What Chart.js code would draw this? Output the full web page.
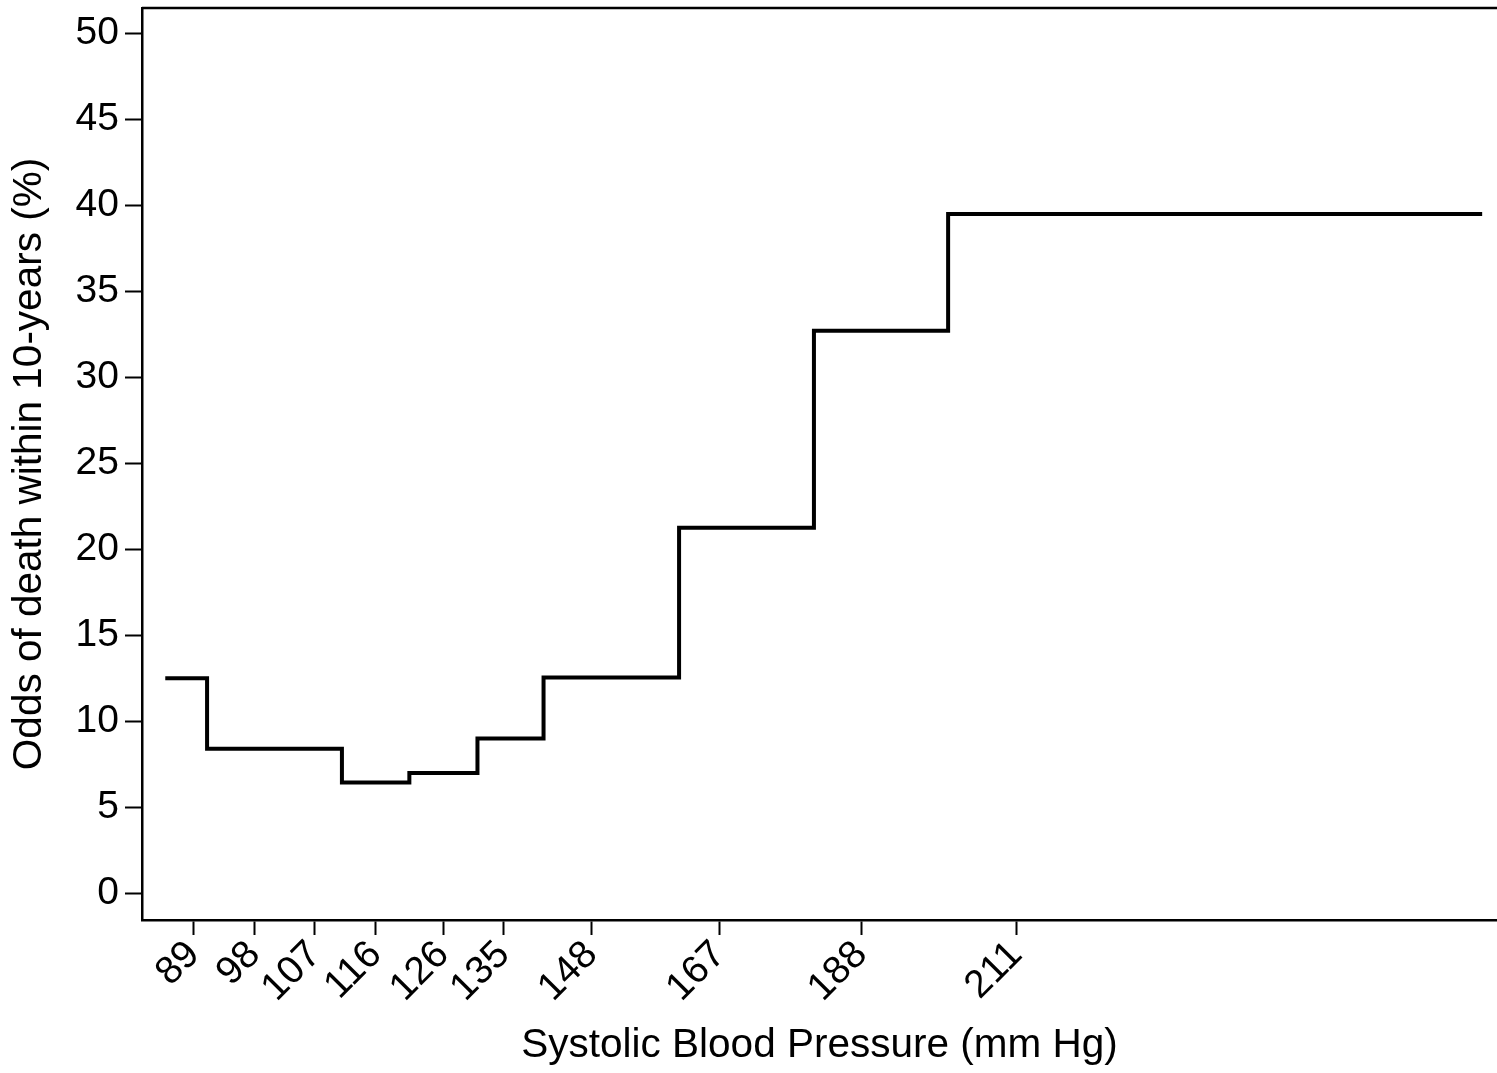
<!DOCTYPE html>
<html>
<head>
<meta charset="utf-8">
<script src="https://cdn.jsdelivr.net/npm/chart.js@4.4.0/dist/chart.umd.min.js"></script>
<style>
  html, body { margin: 0; padding: 0; background: #fff; }
  #wrap { width: 1497px; height: 1073px; }
</style>
</head>
<body>
<div id="wrap"><canvas id="sbpChart"></canvas></div>
<script>
// SBP value where each band starts, and the odds of death (%) for that band
const sbpPoints = [84.8, 91.0, 111.0, 121.0, 131.1, 140.9, 161.0, 181.0, 200.9, 280.1];
const oddsPct = [12.5, 8.4, 6.45, 7.0, 9.0, 12.55, 21.25, 32.7, 39.5, 39.5];
const xTickValues = [89, 98, 107, 116, 126, 135, 148, 167, 188, 211];
const yTickValues = [0, 5, 10, 15, 20, 25, 30, 35, 40, 45, 50];

const FONT = 'Liberation Sans, Arial, Helvetica, sans-serif';

// top edge of the plot frame
const topFrame = {
    id: 'topFrame',
    afterDraw(chart) {
        const { ctx, chartArea } = chart;
        ctx.save();
        ctx.strokeStyle = '#000';
        ctx.lineWidth = 2.5;
        ctx.beginPath();
        ctx.moveTo(chartArea.left, chartArea.top);
        ctx.lineTo(chart.width, chartArea.top);
        ctx.stroke();
        ctx.restore();
    }
};

document.addEventListener('DOMContentLoaded', () => {
    const ctx = document.getElementById('sbpChart').getContext('2d');
    const points = sbpPoints.map((x, i) => ({ x, y: oddsPct[i] }));

    new Chart(ctx, {
        type: 'line',
        data: {
            datasets: [{
                data: points,
                borderColor: '#000',
                borderWidth: 4,
                pointRadius: 0,
                stepped: 'before',
                fill: false
            }]
        },
        options: {
            responsive: true,
            maintainAspectRatio: false,
            animation: false,
            layout: { padding: { top: 8, right: 0, left: 0, bottom: 0 } },
            plugins: {
                legend: { display: false },
                tooltip: { enabled: false }
            },
            scales: {
                x: {
                    type: 'linear',
                    min: 81.35,
                    max: 282.3,
                    afterBuildTicks: axis => { axis.ticks = xTickValues.map(v => ({ value: v })); },
                    afterFit: scale => {
                        scale.height = 153;
                        scale.paddingLeft = 0;
                        scale.paddingRight = 0;
                    },
                    ticks: {
                        autoSkip: false,
                        maxRotation: 45,
                        minRotation: 45,
                        color: '#000',
                        padding: -3,
                        font: { family: FONT, size: 39 }
                    },
                    grid: { drawOnChartArea: false, drawTicks: true, tickLength: 15, tickWidth: 2, tickColor: '#000' },
                    border: { color: '#000', width: 2.5 },
                    title: {
                        display: true,
                        text: 'Systolic Blood Pressure (mm Hg)',
                        color: '#000',
                        font: { family: FONT, size: 40.5 },
                        padding: { top: 0, bottom: 3 }
                    }
                },
                y: {
                    min: -1.55,
                    max: 51.47,
                    afterBuildTicks: axis => { axis.ticks = yTickValues.map(v => ({ value: v })); },
                    afterFit: scale => {
                        scale.width = 142;
                        scale.paddingTop = 0;
                        scale.paddingBottom = 0;
                    },
                    ticks: {
                        color: '#000',
                        padding: 6,
                        font: { family: FONT, size: 39 }
                    },
                    grid: { drawOnChartArea: false, drawTicks: true, tickLength: 17, tickWidth: 2, tickColor: '#000' },
                    border: { color: '#000', width: 2.5 },
                    title: {
                        display: true,
                        text: 'Odds of death within 10-years (%)',
                        color: '#000',
                        font: { family: FONT, size: 40.5 },
                        padding: { top: 6, bottom: 0 }
                    }
                }
            }
        },
        plugins: [topFrame]
    });
});
</script>
</body>
</html>
